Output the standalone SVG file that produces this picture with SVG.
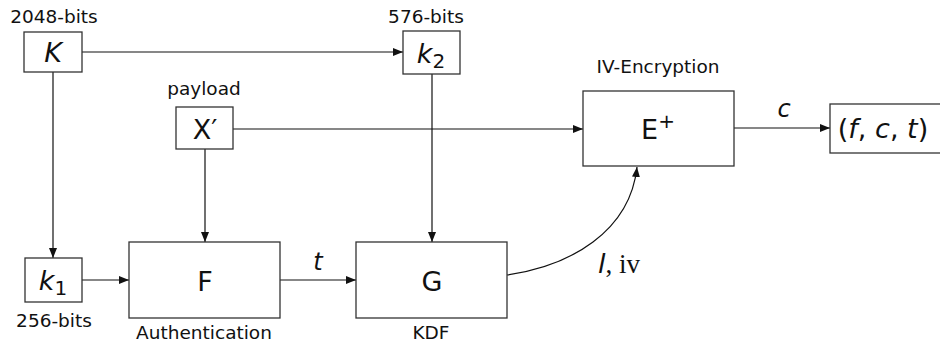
<svg xmlns="http://www.w3.org/2000/svg" width="940" height="345" viewBox="0 0 940 345">
<defs>
<marker id="ah" viewBox="0 0 10 8" refX="10" refY="4" markerWidth="10" markerHeight="8" markerUnits="userSpaceOnUse" orient="auto">
<path d="M0,0 L10,4 L0,8 Z" fill="#111"/>
</marker>
<style>
.box{fill:#fff;stroke:#333;stroke-width:1.3}
.ln{fill:none;stroke:#111;stroke-width:1.2}
.lbl{font-family:"DejaVu Sans",sans-serif;font-size:18.5px;fill:#111;text-anchor:middle}
.sym{font-family:"DejaVu Sans",sans-serif;font-size:27px;fill:#111;text-anchor:middle}
.it{font-style:italic}
</style>
</defs>
<rect width="940" height="345" fill="#fff"/>
<g id="connectors">
<line class="ln" x1="82" y1="52" x2="403" y2="52" marker-end="url(#ah)"/>
<line class="ln" x1="53" y1="72" x2="53" y2="258" marker-end="url(#ah)"/>
<line class="ln" x1="82" y1="280" x2="129" y2="280" marker-end="url(#ah)"/>
<line class="ln" x1="205" y1="149" x2="205" y2="242" marker-end="url(#ah)"/>
<line class="ln" x1="233" y1="129" x2="583" y2="129" marker-end="url(#ah)"/>
<line class="ln" x1="432" y1="74" x2="432" y2="242" marker-end="url(#ah)"/>
<line class="ln" x1="280" y1="280" x2="356" y2="280" marker-end="url(#ah)"/>
<line class="ln" x1="734" y1="128" x2="830" y2="128" marker-end="url(#ah)"/>
<path class="ln" d="M507,275 C570,266 630,232 637,167" marker-end="url(#ah)"/>
<text class="sym it" x="318" y="270" style="font-size:24px">t</text>
<text class="sym it" x="784" y="117" style="font-size:24px">c</text>
<text x="598" y="273" style="font-size:27px;fill:#111"><tspan font-family="DejaVu Sans,sans-serif" font-style="italic">l</tspan><tspan font-family="Liberation Serif,serif">, iv</tspan></text>
</g>
<g id="K">
<rect class="box" x="24" y="32" width="58" height="40"/>
<text class="sym it" x="53" y="62">K</text>
<text class="lbl" x="54" y="23">2048-bits</text>
</g>
<g id="k2">
<rect class="box" x="403" y="31" width="57" height="43"/>
<text class="sym" x="431" y="63"><tspan font-style="italic">k</tspan><tspan font-size="20" dy="5">2</tspan></text>
<text class="lbl" x="426" y="23">576-bits</text>
</g>
<g id="X">
<rect class="box" x="176" y="107" width="57" height="42"/>
<text class="sym" x="205" y="139">X′</text>
<text class="lbl" x="204" y="95">payload</text>
</g>
<g id="k1">
<rect class="box" x="25" y="258" width="57" height="44"/>
<text class="sym" x="53" y="290"><tspan font-style="italic">k</tspan><tspan font-size="20" dy="5">1</tspan></text>
<text class="lbl" x="54" y="327">256-bits</text>
</g>
<g id="F">
<rect class="box" x="129" y="242" width="151" height="76"/>
<text class="sym" x="205" y="291">F</text>
<text class="lbl" x="204" y="339">Authentication</text>
</g>
<g id="G">
<rect class="box" x="356" y="242" width="151" height="76"/>
<text class="sym" x="432" y="291">G</text>
<text class="lbl" x="431" y="339">KDF</text>
</g>
<g id="E">
<rect class="box" x="583" y="91" width="151" height="75"/>
<text class="sym" x="658" y="139">E<tspan font-size="20" dy="-11">+</tspan></text>
<text class="lbl" x="658" y="73">IV-Encryption</text>
</g>
<g id="out">
<rect class="box" x="830" y="104" width="115" height="49"/>
<text class="sym" x="883" y="138">(<tspan font-style="italic">f</tspan>, <tspan font-style="italic">c</tspan>, <tspan font-style="italic">t</tspan>)</text>
</g>
</svg>
